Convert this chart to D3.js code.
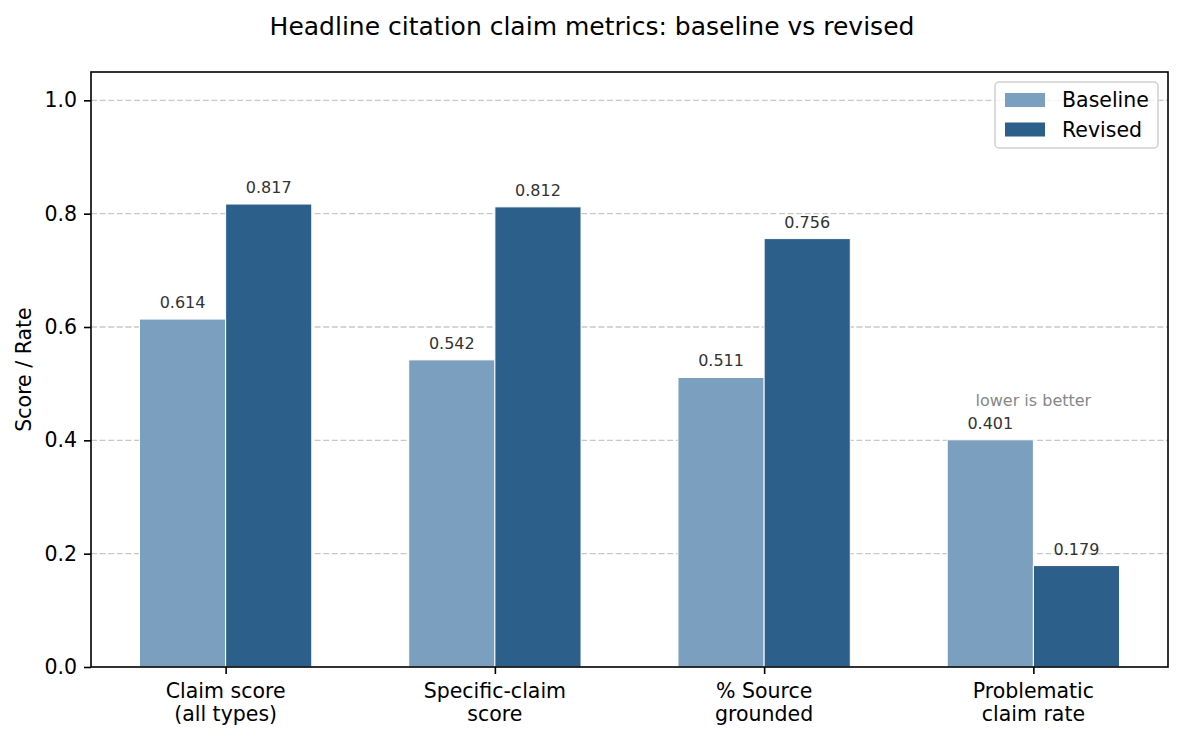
<!DOCTYPE html>
<html>
<head>
<meta charset="utf-8">
<script src="https://cdn.jsdelivr.net/npm/d3@7"></script>
<style>
  body { margin: 0; background: #fff; }
  text { font-family: "DejaVu Sans", sans-serif; }
</style>
</head>
<body>
<div id="chart"></div>
<script>
var categories = [["Claim score", "(all types)"], ["Specific-claim", "score"], ["% Source", "grounded"], ["Problematic", "claim rate"]];
var seriesNames = ["Baseline", "Revised"];
var baseline = [0.614, 0.542, 0.511, 0.401];
var revised = [0.817, 0.812, 0.756, 0.179];
var yTicks = [0.0, 0.2, 0.4, 0.6, 0.8, 1.0];

(function() {
    var width = 1184,
        height = 740;
    var margin = {left: 91, right: 16, top: 72, bottom: 73};
    var colors = ["#7b9fbf", "#2c5f8a"];
    var fs = "20.5px";

    var svg = d3.select("#chart")
        .append("svg")
        .attr("width", width)
        .attr("height", height);

    var x = d3.scaleLinear()
        .domain([-0.5, 3.5])
        .range([margin.left, width - margin.right]);

    var y = d3.scaleLinear()
        .domain([0, 1.05])
        .range([height - margin.bottom, margin.top]);

    var barW = 0.32;

    // grid
    svg.append("g")
        .selectAll("line")
        .data(yTicks.slice(1))
        .enter()
        .append("line")
        .attr("x1", margin.left)
        .attr("x2", width - margin.right)
        .attr("y1", function(d) { return y(d); })
        .attr("y2", function(d) { return y(d); })
        .style("stroke", "#c8c8c8")
        .style("stroke-dasharray", "6,2.6")
        .style("stroke-width", 1.3);

    var series = [baseline, revised];
    series.forEach(function(vals, s) {
        var g = svg.append("g");
        g.selectAll("rect")
            .data(vals)
            .enter()
            .append("rect")
            .attr("x", function(d, i) { return x(i + (s - 1) * barW); })
            .attr("width", x(barW) - x(0))
            .attr("y", function(d) { return y(d); })
            .attr("height", function(d) { return y(0) - y(d); })
            .style("fill", colors[s])
            .style("stroke", "#fff")
            .style("stroke-width", 1);

        g.selectAll("text")
            .data(vals)
            .enter()
            .append("text")
            .attr("x", function(d, i) { return x(i + (s - 0.5) * barW); })
            .attr("y", function(d) { return y(d) - 11; })
            .attr("text-anchor", "middle")
            .style("font-size", "16px")
            .style("fill", "#333")
            .text(function(d) { return d.toFixed(3); });
    });

    // annotation
    svg.append("text")
        .attr("x", x(3))
        .attr("y", 406)
        .attr("text-anchor", "middle")
        .style("font-size", "16px")
        .style("fill", "#888")
        .text("lower is better");

    // axes
    var yAxis = d3.axisLeft(y)
        .tickValues(yTicks)
        .tickFormat(d3.format(".1f"))
        .tickSize(7)
        .tickPadding(7);
    var gy = svg.append("g")
        .attr("transform", "translate(" + margin.left + ",0)")
        .call(yAxis);
    gy.select(".domain").remove();
    gy.selectAll("text").style("font-size", fs).style("fill", "#000")
        .style("font-family", "DejaVu Sans");
    gy.selectAll("line").style("stroke", "#000").style("stroke-width", 1.6);

    var xAxis = d3.axisBottom(x)
        .tickValues([0, 1, 2, 3])
        .tickFormat("")
        .tickSize(7);
    var gx = svg.append("g")
        .attr("transform", "translate(0," + (height - margin.bottom) + ")")
        .call(xAxis);
    gx.select(".domain").remove();
    gx.selectAll("line").style("stroke", "#000").style("stroke-width", 1.6);

    categories.forEach(function(lines, i) {
        var t = svg.append("text")
            .attr("x", x(i))
            .attr("y", 698)
            .attr("text-anchor", "middle")
            .style("font-size", fs);
        lines.forEach(function(l, j) {
            t.append("tspan")
                .attr("x", x(i))
                .attr("dy", j === 0 ? 0 : 23)
                .text(l);
        });
    });

    // frame
    svg.append("rect")
        .attr("x", margin.left)
        .attr("y", margin.top)
        .attr("width", width - margin.left - margin.right)
        .attr("height", height - margin.top - margin.bottom)
        .style("fill", "none")
        .style("stroke", "#000")
        .style("stroke-width", 1.6);

    svg.append("text")
        .attr("transform", "translate(31," + ((margin.top + height - margin.bottom) / 2) + ") rotate(-90)")
        .attr("text-anchor", "middle")
        .style("font-size", fs)
        .text("Score / Rate");

    svg.append("text")
        .attr("x", width / 2)
        .attr("y", 35)
        .attr("text-anchor", "middle")
        .style("font-size", "25px")
        .text("Headline citation claim metrics: baseline vs revised");

    // legend
    var legend = svg.append("g")
        .attr("transform", "translate(995,82)");
    legend.append("rect")
        .attr("width", 163)
        .attr("height", 66)
        .attr("rx", 4)
        .style("fill", "#fff")
        .style("fill-opacity", 0.8)
        .style("stroke", "#d0d0d0")
        .style("stroke-width", 1.5);
    seriesNames.forEach(function(name, i) {
        var item = legend.append("g")
            .attr("transform", "translate(10," + (11 + i * 29.5) + ")");
        item.append("rect")
            .attr("width", 40)
            .attr("height", 14)
            .style("fill", colors[i]);
        item.append("text")
            .attr("x", 57)
            .attr("y", 14)
            .style("font-size", fs)
            .text(name);
    });
})();
</script>
</body>
</html>
